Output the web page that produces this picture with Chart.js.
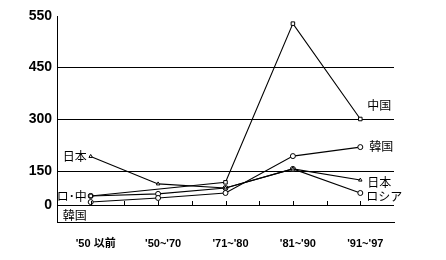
<!DOCTYPE html>
<html>
<head>
<meta charset="utf-8">
<script src="https://cdn.jsdelivr.net/npm/chart.js@4"></script>
<style>
  body { margin: 0; background: #fff; }
</style>
</head>
<body>
<canvas id="chart" width="446" height="260"></canvas>
<script>
// データ
const periods = ["'50 以前", "'50~'70", "'71~'80", "'81~'90", "'91~'97"];
const china = [40, null, 100, 535, 300];
const korea = [13, 31, 53, 193, 219];
const japan = [192, 93, 75, 156, 110];
const russia = [40, 49, 75, 156, 53];
const yTicks = [0, 150, 300, 450, 550];

// 元の図は目盛り間隔が均等ではないので区分線形の軸を作る
const yBreaks = [-75, 0, 150, 300, 450, 550];
const ySteps = [17, 34, 52, 52, 51];

class PiecewiseScale extends Chart.LinearScale {
    _frac(value) {
        let i = 0;
        while (i < yBreaks.length - 2 && value > yBreaks[i + 1]) i++;
        const total = ySteps.reduce((a, b) => a + b, 0);
        let below = 0;
        for (let k = 0; k < i; k++) below += ySteps[k];
        const t = (value - yBreaks[i]) / (yBreaks[i + 1] - yBreaks[i]);
        return (below + t * ySteps[i]) / total;
    }
    getPixelForValue(value) {
        if (value === null || value === undefined || isNaN(value)) return NaN;
        return this.bottom - this._frac(value) * (this.bottom - this.top);
    }
    getValueForPixel(pixel) {
        const total = ySteps.reduce((a, b) => a + b, 0);
        let f = (this.bottom - pixel) / (this.bottom - this.top) * total;
        for (let i = 0; i < ySteps.length; i++) {
            if (f <= ySteps[i] || i === ySteps.length - 1) {
                return yBreaks[i] + f / ySteps[i] * (yBreaks[i + 1] - yBreaks[i]);
            }
            f -= ySteps[i];
        }
    }
}
PiecewiseScale.id = "piecewise";
PiecewiseScale.defaults = Chart.LinearScale.defaults;
Chart.register(PiecewiseScale);

// 線の横に付ける名前
const seriesLabels = [
    { text: "日本", data: japan, index: 0, dx: -4, dy: 0, align: "right" },
    { text: "ロ･中", data: china, index: 0, dx: -4, dy: 1, align: "right" },
    { text: "韓国", data: korea, index: 0, dx: -4, dy: 13, align: "right" },
    { text: "中国", data: china, index: 4, dx: 7, dy: -14, align: "left" },
    { text: "韓国", data: korea, index: 4, dx: 9, dy: -1, align: "left" },
    { text: "日本", data: japan, index: 4, dx: 7, dy: 2, align: "left" },
    { text: "ロシア", data: russia, index: 4, dx: 6, dy: 3, align: "left" }
];

const extras = {
    id: "extras",
    afterDatasetsDraw(chart) {
        const ctx = chart.ctx;
        const x = chart.scales.x;
        const y = chart.scales.y;
        const y0 = y.getPixelForValue(0);

        // 0の線の上の小さな目盛り
        ctx.save();
        ctx.strokeStyle = "#000";
        ctx.lineWidth = 1;
        for (let i = 0; i < periods.length; i++) {
            const px = Math.round(x.getPixelForValue(i)) + 0.5;
            ctx.beginPath();
            ctx.moveTo(px, y0);
            ctx.lineTo(px, y0 - 4);
            ctx.stroke();
            if (i < periods.length - 1) {
                const mx = Math.round((x.getPixelForValue(i) + x.getPixelForValue(i + 1)) / 2) + 0.5;
                ctx.beginPath();
                ctx.moveTo(mx, y0);
                ctx.lineTo(mx, y0 - 4);
                ctx.stroke();
            }
        }

        ctx.fillStyle = "#000";
        ctx.font = "12px 'Noto Sans CJK JP'";
        ctx.textBaseline = "middle";
        seriesLabels.forEach(function (l) {
            ctx.textAlign = l.align;
            ctx.fillText(l.text,
                x.getPixelForValue(l.index) + l.dx,
                y.getPixelForValue(l.data[l.index]) + l.dy);
        });
        ctx.restore();
    }
};

function lineSet(label, data, style) {
    return {
        label: label,
        data: data,
        borderColor: "#000",
        borderWidth: 1.1,
        pointStyle: style,
        pointRadius: style === "triangle" ? 2 : 2.5,
        pointBackgroundColor: "#fff",
        pointBorderColor: "#000",
        pointBorderWidth: 1,
        spanGaps: true,
        tension: 0
    };
}

new Chart(document.getElementById("chart"), {
    type: "line",
    data: {
        labels: periods,
        datasets: [
            lineSet("中国", china, "rect"),
            lineSet("韓国", korea, "circle"),
            lineSet("日本", japan, "triangle"),
            lineSet("ロシア", russia, "circle")
        ]
    },
    options: {
        responsive: false,
        animation: false,
        devicePixelRatio: 1,
        layout: { padding: { top: 16, right: 52, left: 0, bottom: 0 } },
        plugins: {
            legend: { display: false },
            tooltip: { enabled: false }
        },
        scales: {
            x: {
                offset: true,
                grid: { display: false },
                border: { display: true, color: "#000", width: 1 },
                ticks: {
                    color: "#000",
                    padding: 7,
                    labelOffset: 5,
                    maxRotation: 0,
                    font: { family: "'Liberation Sans', 'Noto Sans CJK JP'", size: 11, weight: "bold" }
                },
                afterFit: function (scale) { scale.height = 38; }
            },
            y: {
                type: "piecewise",
                min: -75,
                max: 550,
                afterBuildTicks: function (scale) {
                    scale.ticks = yTicks.map(v => ({ value: v }));
                },
                grid: {
                    drawTicks: false,
                    color: ctx => (ctx.tick && ctx.tick.value === 550) ? "rgba(0,0,0,0)" : "#000",
                    lineWidth: 1
                },
                border: { display: true, color: "#000", width: 1 },
                ticks: {
                    color: "#000",
                    padding: 5,
                    font: { family: "'Liberation Sans'", size: 14, weight: "bold" },
                    callback: v => v
                },
                afterFit: function (scale) { scale.width = 57; }
            }
        }
    },
    plugins: [extras]
});
</script>
</body>
</html>
